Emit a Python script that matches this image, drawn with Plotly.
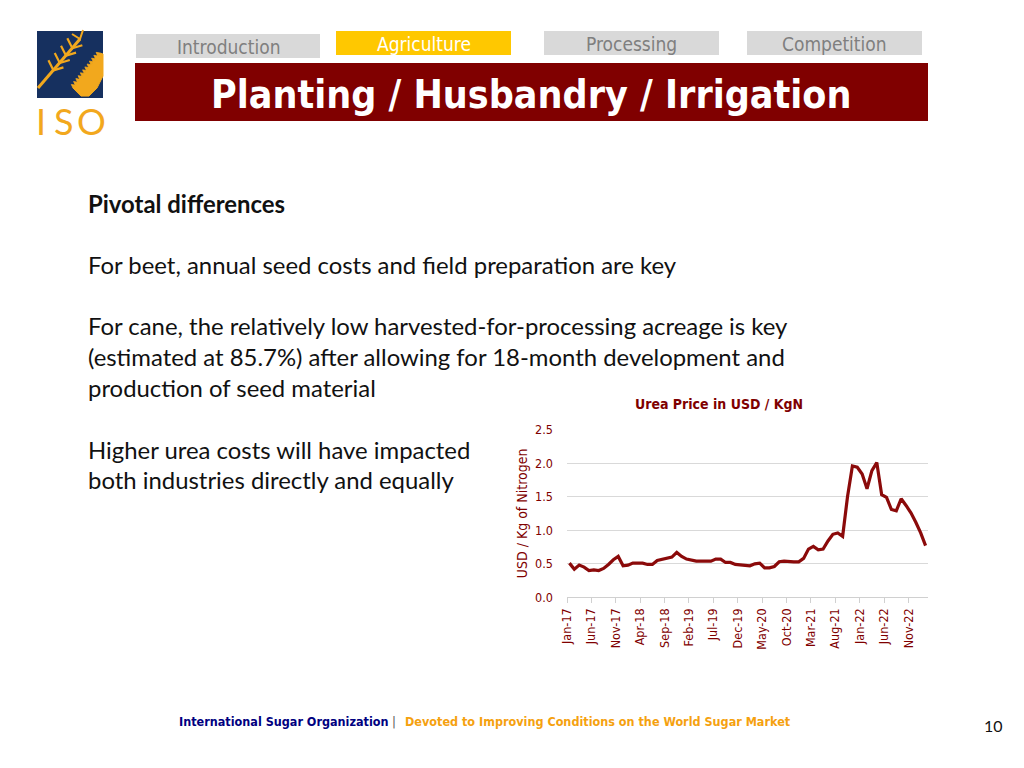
import math
import plotly.graph_objects as go

# ---------------- data ----------------
months = ["Jan-17","Feb-17","Mar-17","Apr-17","May-17","Jun-17","Jul-17","Aug-17","Sep-17","Oct-17","Nov-17","Dec-17",
          "Jan-18","Feb-18","Mar-18","Apr-18","May-18","Jun-18","Jul-18","Aug-18","Sep-18","Oct-18","Nov-18","Dec-18",
          "Jan-19","Feb-19","Mar-19","Apr-19","May-19","Jun-19","Jul-19","Aug-19","Sep-19","Oct-19","Nov-19","Dec-19",
          "Jan-20","Feb-20","Mar-20","Apr-20","May-20","Jun-20","Jul-20","Aug-20","Sep-20","Oct-20","Nov-20","Dec-20",
          "Jan-21","Feb-21","Mar-21","Apr-21","May-21","Jun-21","Jul-21","Aug-21","Sep-21","Oct-21","Nov-21","Dec-21",
          "Jan-22","Feb-22","Mar-22","Apr-22","May-22","Jun-22","Jul-22","Aug-22","Sep-22","Oct-22","Nov-22","Dec-22",
          "Jan-23","Feb-23"]
urea_price = [0.51,0.42,0.48,0.45,0.40,0.41,0.40,0.43,0.49,0.56,0.61,0.47,
              0.48,0.51,0.51,0.51,0.49,0.49,0.55,0.57,0.59,0.60,0.67,0.61,
              0.57,0.55,0.54,0.54,0.54,0.54,0.57,0.57,0.52,0.52,0.49,0.48,
              0.47,0.47,0.50,0.51,0.44,0.44,0.46,0.53,0.54,0.53,0.53,0.53,
              0.58,0.72,0.76,0.71,0.72,0.84,0.94,0.96,0.91,1.50,1.96,1.94,
              1.84,1.62,1.89,2.01,1.53,1.49,1.31,1.29,1.47,1.37,1.26,1.12,
              0.96,0.77]
tick_labels = ["Jan-17","Jun-17","Nov-17","Apr-18","Sep-18","Feb-19","Jul-19","Dec-19",
               "May-20","Oct-20","Mar-21","Aug-21","Jan-22","Jun-22","Nov-22"]
y_ticks = [0.0, 0.5, 1.0, 1.5, 2.0, 2.5]

tabs = ["Introduction", "Agriculture", "Processing", "Competition"]
slide_title = "Planting / Husbandry / Irrigation"
body_lines = [
    ("<b>Pivotal differences</b>", 203),
    ("For beet, annual seed costs and field preparation are key", 264),
    ("For cane, the relatively low harvested-for-processing acreage is key", 325),
    ("(estimated at 85.7%) after allowing for 18-month development and", 356),
    ("production of seed material", 387),
    ("Higher urea costs will have impacted", 449),
    ("both industries directly and equally", 479),
]

W, H = 1024, 768
# slide pixel -> paper coordinates (compensates the viewer's small offset/scale)
def px(x): return (x - 8) / 1016.0
def py(y): return 1 - (y - 8) / 752.6

DARKRED = "#7f0000"
LINE = "#8b0a0a"
COND = "DejaVu Sans Condensed, DejaVu Sans"

x_idx = list(range(len(months)))
tickvals = [months.index(t) - 0.5 for t in tick_labels]

fig = go.Figure()
fig.add_trace(go.Scatter(
    x=x_idx, y=urea_price, mode="lines",
    line=dict(color=LINE, width=3.2),
    text=months, hovertemplate="%{text}: %{y:.2f}<extra></extra>",
    showlegend=False))

shapes = []
annotations = []

def rect(x0, y0, x1, y1, color):
    shapes.append(dict(type="rect", xref="paper", yref="paper",
                       x0=px(x0), x1=px(x1), y0=py(y1), y1=py(y0),
                       fillcolor=color, line=dict(width=0), layer="below"))

def text(t, x, y, size, color, family, xanchor="left", yanchor="middle", angle=0):
    annotations.append(dict(text=t, x=px(x), y=py(y), xref="paper", yref="paper",
                            xanchor=xanchor, yanchor=yanchor, showarrow=False,
                            textangle=angle,
                            font=dict(size=size, color=color, family=family)))

def path(points, color, fill=None, width=0):
    d = "M " + " L ".join(f"{px(a):.5f},{py(b):.5f}" for a, b in points)
    if fill:
        d += " Z"
    shapes.append(dict(type="path", xref="paper", yref="paper", path=d,
                       fillcolor=fill if fill else "rgba(0,0,0,0)",
                       line=dict(color=color, width=width), layer="above"))

# ---- tabs ----
tab_boxes = [(136, 34, 320, 58, "#d9d9d9", "#7f7f7f"),
             (336, 31, 511, 55, "#ffc800", "#ffffff"),
             (544, 31, 719, 55, "#d9d9d9", "#7f7f7f"),
             (747, 31, 922, 55, "#d9d9d9", "#7f7f7f")]
for name, (x0, y0, x1, y1, bg, fg) in zip(tabs, tab_boxes):
    rect(x0, y0, x1, y1, bg)
    text(name, (x0 + x1) / 2, (y0 + y1) / 2 + 1, 19, fg, COND, xanchor="center")

# ---- title bar ----
rect(135, 63, 928, 121, "#800000")
text("<b>" + slide_title + "</b>", 531, 94, 39, "#ffffff", COND, xanchor="center")

# ---- logo ----
rect(37, 31, 103, 98, "#16305f")
GOLD = "#f2a81d"
sx0, sy0, sx1, sy1 = 38, 88, 80, 39
path([(sx0, sy0), (sx1, sy1)], GOLD, width=3)
for f in (0.32, 0.47, 0.62, 0.77):
    bx, by = sx0 + (sx1 - sx0) * f, sy0 + (sy1 - sy0) * f
    path([(bx - 3, by - 12), (bx + 2, by - 2), (bx + 12, by - 5)], GOLD, width=2.2)
path([(72, 34), (80, 39), (83, 30)], GOLD, width=2)
path([(73, 88), (100, 53), (103, 54), (103, 76), (97, 88), (89, 96), (81, 96)], GOLD, fill=GOLD, width=1)
ax, ay, bx2, by2 = 73, 88, 100, 53
L = math.hypot(bx2 - ax, by2 - ay)
nx, ny = -(by2 - ay) / L, (bx2 - ax) / L
if ny > 0:
    nx, ny = -nx, -ny
teeth = []
n = 12
for i in range(n + 1):
    t = i / n
    teeth.append((ax + (bx2 - ax) * t, ay + (by2 - ay) * t))
    if i < n:
        t2 = (i + 0.5) / n
        teeth.append((ax + (bx2 - ax) * t2 + nx * 3.5, ay + (by2 - ay) * t2 + ny * 3.5))
path(teeth, GOLD, fill=GOLD, width=0.8)
for ch, cx in zip("ISO", (41, 64, 91)):
    text(ch, cx, 121, 36, GOLD, "DejaVu Sans ExtraLight, Lato, DejaVu Sans", xanchor="center")

# ---- body text ----
for t, y in body_lines:
    text(t, 86, y, 23.9, "#111111", "Lato, Open Sans, sans-serif")

# ---- chart title and axis title ----
text("<b>Urea Price in USD / KgN</b>", 719, 404, 14, DARKRED, COND, xanchor="center")
text("USD / Kg of Nitrogen", 522, 513, 14, DARKRED, COND, xanchor="center", angle=-90)

# ---- footer ----
text("<b>International Sugar Organization</b>", 177, 721, 12.5, "#000080", COND)
text("|", 394, 721, 13, "#555555", COND, xanchor="center")
text("<b>Devoted to Improving Conditions on the World Sugar Market</b>", 403, 721, 12.5, "#f5a10f", COND)
text("10", 993, 725, 16, "#111111", "Lato, Liberation Sans", xanchor="center")

fig.update_layout(
    width=W, height=H, margin=dict(l=0, r=0, t=0, b=0),
    paper_bgcolor="#ffffff", plot_bgcolor="#ffffff",
    shapes=shapes, annotations=annotations,
    xaxis=dict(domain=[px(567), px(928)], range=[-0.5, len(months) - 0.5],
               tickmode="array", tickvals=tickvals, ticktext=tick_labels,
               tickangle=-90, ticks="outside", ticklen=5, tickcolor="#d0d0d0",
               showline=True, linecolor="#d0d0d0", linewidth=1,
               showgrid=False, zeroline=False,
               tickfont=dict(size=12.5, color=DARKRED, family=COND)),
    yaxis=dict(domain=[py(597), py(429.5)], range=[0, 2.5],
               tickmode="array", tickvals=y_ticks, ticktext=[f"{v:.1f}" for v in y_ticks],
               showgrid=True, gridcolor="#d9d9d9", gridwidth=1, zeroline=False,
               showline=False, ticks="", ticklabelstandoff=13,
               tickfont=dict(size=12.5, color=DARKRED, family=COND)),
)

post = ("document.documentElement.style.margin='0';document.documentElement.style.padding='0';"
        "document.body.style.margin='0';document.body.style.padding='0';document.body.style.overflow='hidden';"
        "var g=document.getElementsByClassName('plotly-graph-div')[0];"
        "g.style.position='fixed';g.style.left='0px';g.style.top='0px';")

fig.write_html("out.html", config={"displayModeBar": False}, post_script=post)
